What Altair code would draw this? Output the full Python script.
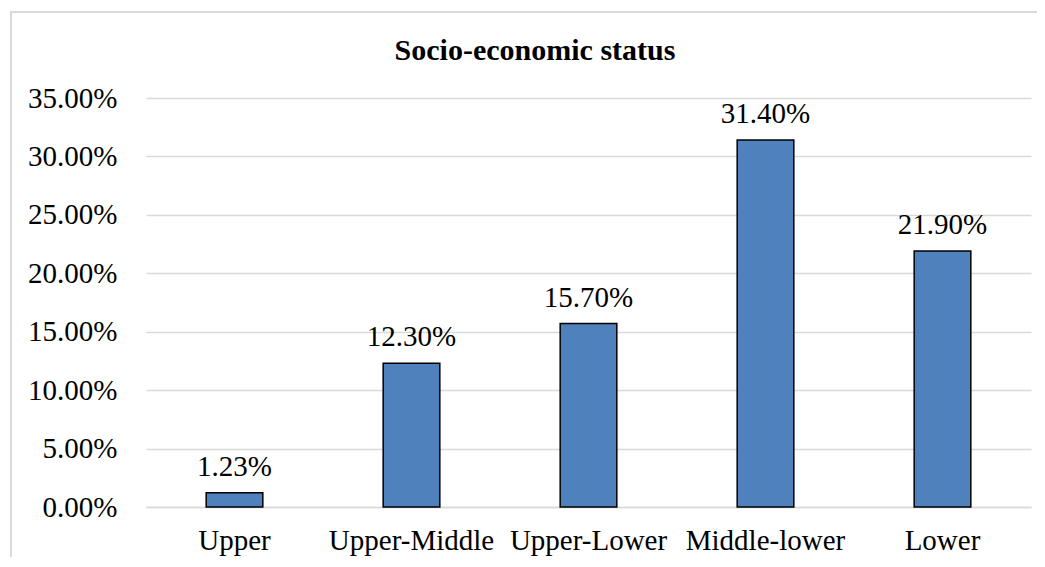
import altair as alt
import pandas as pd

title_text = "Socio-economic status"
categories = ["Upper", "Upper-Middle", "Upper-Lower", "Middle-lower", "Lower"]
values = [0.0123, 0.123, 0.157, 0.314, 0.219]
y_ticks = [0, 0.05, 0.10, 0.15, 0.20, 0.25, 0.30, 0.35]

df = pd.DataFrame({"category": categories, "value": values})

FONT = "Liberation Serif"

x = alt.X("category:N", sort=categories, title=None,
          scale=alt.Scale(paddingInner=0.68, paddingOuter=0.34),
          axis=alt.Axis(labelAngle=0, labelFont=FONT, labelFontSize=29, labelColor="#000000",
                        labelBaseline="alphabetic", labelPadding=42, ticks=False,
                        domainColor="#d9d9d9", domainWidth=1.5, labelFlush=False))
y = alt.Y("value:Q", title=None,
          scale=alt.Scale(domain=[0, 0.35], nice=False),
          axis=alt.Axis(values=y_ticks, format=".2%", labelFont=FONT, labelFontSize=29,
                        labelColor="#000000", labelPadding=29, ticks=False, domain=False,
                        gridColor="#d9d9d9", gridWidth=1.5))

bars = alt.Chart(df).mark_bar(color="#4F81BD", stroke="#000000", strokeWidth=1.5).encode(x=x, y=y)

labels = alt.Chart(df).mark_text(font=FONT, fontSize=29, color="#000000", baseline="alphabetic",
                                 dy=-17).encode(
    x=alt.X("category:N", sort=categories),
    y="value:Q",
    text=alt.Text("value:Q", format=".2%"),
)

border = alt.Chart(df).mark_rect(fill=None, stroke="#d9d9d9", strokeWidth=1.5, clip=False).encode(
    x=alt.value(-135), x2=alt.value(1000), y=alt.value(-86), y2=alt.value(480)
)

title = alt.Chart(pd.DataFrame({"t": [title_text]})).mark_text(
    font=FONT, fontSize=30, fontWeight="bold", color="#000000", baseline="alphabetic", align="center"
).encode(text="t:N", x=alt.value(389), y=alt.value(-38))

chart = alt.layer(border, bars, labels, title).properties(
    width=885, height=409,
    autosize=alt.AutoSizeParams(type="none"),
    padding={"left": 138, "top": 90, "right": 6, "bottom": 50},
).configure_view(stroke=None)

chart.save("out.html", embed_options={"renderer": "svg", "actions": False})
